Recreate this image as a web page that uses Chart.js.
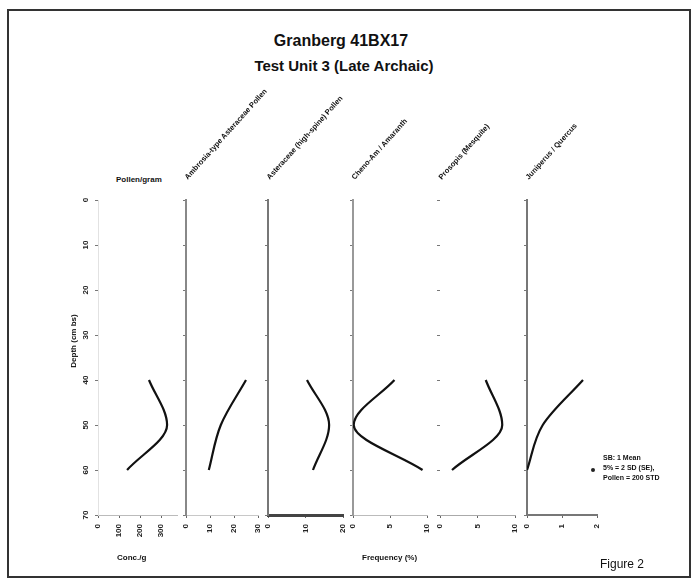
<!DOCTYPE html>
<html>
<head>
<meta charset="utf-8">
<title>Granberg 41BX17</title>
<script src="https://cdn.jsdelivr.net/npm/chart.js@4.4.1/dist/chart.umd.min.js"></script>
<style>
  html, body { margin: 0; padding: 0; background: #fff; }
  body { width: 697px; height: 579px; position: relative; overflow: hidden;
         font-family: "Liberation Sans", Arial, sans-serif; color: #111; }
  .frame { position: absolute; left: 7px; top: 9px; width: 684px; height: 569px;
           box-sizing: border-box; border: 2px solid #333; }
  .title { position: absolute; left: 0; width: 682px; text-align: center; font-weight: bold; }
  .panel { position: absolute; }
  .head { position: absolute; white-space: nowrap; font-size: 7.5px; font-weight: bold;
          line-height: 10px; transform-origin: 0 100%; transform: rotate(-48deg); }
  .lbl { position: absolute; white-space: nowrap; font-weight: bold; }
</style>
</head>
<body>
<div class="frame"></div>
<div class="title" style="top:32px;font-size:16px;">Granberg 41BX17</div>
<div class="title" style="top:57px;font-size:15px;left:3px;">Test Unit 3 (Late Archaic)</div>

<div id="panels"></div>

<div class="lbl" style="left:34px;width:80px;text-align:center;top:336px;font-size:8px;line-height:10px;transform:rotate(-90deg);transform-origin:50% 50%;">Depth (cm bs)</div>
<div class="lbl" style="left:116px;top:175px;font-size:8px;">Pollen/gram</div>
<div class="lbl" style="left:117px;top:553px;font-size:8px;">Conc./g</div>
<div class="lbl" style="left:362px;top:553px;font-size:8px;">Frequency (%)</div>
<div style="position:absolute;left:591px;top:468px;width:4px;height:4px;border-radius:2px;background:#222;"></div>
<div class="lbl" style="left:603px;top:453px;font-size:7px;line-height:10px;">SB: 1 Mean<br>5% = 2 SD (SE),<br>Pollen = 200 STD</div>
<div class="lbl" style="left:600px;top:557px;font-size:12px;font-weight:normal;">Figure 2</div>

<script>
// ---- data ----
const depthTicks = [0, 10, 20, 30, 40, 50, 60, 70];
const sampleDepths = [40, 50, 60];

const concValues = [242, 328, 138];
const ambrosiaValues = [25, 14.5, 9.5];
const highSpineValues = [10.4, 16.3, 12];
const chenoValues = [5.6, 0.1, 9.4];
const prosopisValues = [6.1, 8.3, 1.6];
const juniperValues = [1.6, 0.45, 0];

const concTicks = [0, 100, 200, 300];
const ambrosiaTicks = [0, 10, 20, 30];
const highSpineTicks = [0, 10, 20];
const chenoTicks = [0, 5, 10];
const prosopisTicks = [0, 5, 10];
const juniperTicks = [0, 1, 2];

const panelTitles = [
    '',
    'Ambrosia-type Asteraceae Pollen',
    'Asteraceae (high-spine) Pollen',
    'Cheno-Am / Amaranth',
    'Prosopis (Mesquite)',
    'Juniperus / Quercus'
];

// ---- layout of the six strips (axis left x, plot width, styles) ----
const PLOT_TOP = 200;
const PLOT_H = 315;
const PAD_TOP = 8;
const PAD_RIGHT = 18;
const X_AXIS_H = 40;

const panels = [
    { values: concValues, ticks: concTicks, max: 375, left: 98, width: 79, yW: 28,
      yColor: '#e2e2e2', yWidth: 1, yBorder: true, xColor: '#bbb', xWidth: 1, depthLabels: true },
    { values: ambrosiaValues, ticks: ambrosiaTicks, max: 30, left: 186, width: 72, yW: 18,
      yColor: '#888', yWidth: 2, yBorder: true, xColor: '#c8c8c8', xWidth: 1 },
    { values: highSpineValues, ticks: highSpineTicks, max: 20, left: 268, width: 75, yW: 18,
      yColor: '#777', yWidth: 2, yBorder: true, xColor: '#444', xWidth: 3 },
    { values: chenoValues, ticks: chenoTicks, max: 10, left: 353, width: 74, yW: 18,
      yColor: '#999', yWidth: 2, yBorder: true, xColor: '#bbb', xWidth: 1 },
    { values: prosopisValues, ticks: prosopisTicks, max: 10, left: 440, width: 75, yW: 18,
      yColor: '#999', yWidth: 1, yBorder: false, xColor: '#aaa', xWidth: 1 },
    { values: juniperValues, ticks: juniperTicks, max: 2, left: 527, width: 70, yW: 18,
      yColor: '#777', yWidth: 2, yBorder: true, xColor: '#777', xWidth: 2 }
];

// rotated depth labels on the first strip
const depthLabelPlugin = {
    id: 'depthLabels',
    afterDraw(chart, args, opts) {
        if (!opts.show) return;
        const scale = chart.scales.y;
        const ctx = chart.ctx;
        ctx.save();
        ctx.font = 'bold 8px "Liberation Sans", Arial, sans-serif';
        ctx.fillStyle = '#222';
        ctx.textAlign = 'center';
        ctx.textBaseline = 'middle';
        depthTicks.forEach(v => {
            const y = scale.getPixelForValue(v);
            ctx.save();
            ctx.translate(chart.chartArea.left - 12, y);
            ctx.rotate(-Math.PI / 2);
            ctx.fillText(String(v), 0, 0);
            ctx.restore();
        });
        ctx.restore();
    }
};

function buildPanel(p, idx) {
    const host = document.getElementById('panels');
    const wrap = document.createElement('div');
    wrap.className = 'panel';
    const cw = p.yW + p.width + PAD_RIGHT;
    const ch = PAD_TOP + PLOT_H + X_AXIS_H;
    wrap.style.left = (p.left - p.yW) + 'px';
    wrap.style.top = (PLOT_TOP - PAD_TOP) + 'px';
    wrap.style.width = cw + 'px';
    wrap.style.height = ch + 'px';
    const canvas = document.createElement('canvas');
    canvas.width = cw;
    canvas.height = ch;
    wrap.appendChild(canvas);
    host.appendChild(wrap);

    if (panelTitles[idx]) {
        const h = document.createElement('div');
        h.className = 'head';
        h.textContent = panelTitles[idx];
        h.style.left = (p.left + 4) + 'px';
        h.style.top = (182 - 10) + 'px';
        host.appendChild(h);
    }

    new Chart(canvas, {
        type: 'line',
        data: {
            datasets: [{
                data: sampleDepths.map((d, j) => ({ x: p.values[j], y: d })),
                borderColor: '#111',
                borderWidth: 2.2,
                pointRadius: 0,
                fill: false,
                cubicInterpolationMode: 'monotone'
            }]
        },
        options: {
            indexAxis: 'y',
            responsive: false,
            animation: false,
            layout: { padding: { top: PAD_TOP, right: PAD_RIGHT, left: 0, bottom: 0 } },
            plugins: {
                legend: { display: false },
                tooltip: { enabled: false },
                depthLabels: { show: !!p.depthLabels }
            },
            scales: {
                x: {
                    type: 'linear',
                    min: 0,
                    max: p.max,
                    afterBuildTicks: s => { s.ticks = p.ticks.map(v => ({ value: v })); },
                    afterFit: s => { s.height = X_AXIS_H; },
                    grid: { drawOnChartArea: false, tickLength: 3, color: '#666' },
                    border: { display: true, color: p.xColor, width: p.xWidth },
                    ticks: {
                        minRotation: 90,
                        maxRotation: 90,
                        padding: 6,
                        color: '#222',
                        font: { size: 8, weight: 'bold', family: '"Liberation Sans", Arial, sans-serif' }
                    }
                },
                y: {
                    type: 'linear',
                    min: 0,
                    max: 70,
                    reverse: true,
                    afterBuildTicks: s => { s.ticks = depthTicks.map(v => ({ value: v })); },
                    afterFit: s => { s.width = p.yW; },
                    grid: { drawOnChartArea: false, tickLength: 3, color: '#777' },
                    border: { display: p.yBorder, color: p.yColor, width: p.yWidth },
                    ticks: { display: false }
                }
            }
        },
        plugins: [depthLabelPlugin]
    });
}

panels.forEach(buildPanel);
</script>
</body>
</html>
